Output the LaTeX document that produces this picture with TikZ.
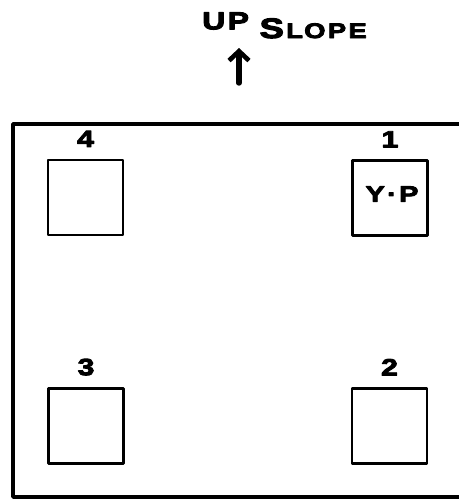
\documentclass[tikz,border=0pt]{standalone}
\usepackage{fontspec}
\setmainfont{Liberation Sans}
\newfontfamily\widefont{Liberation Sans Bold}[FakeBold=4,FakeStretch=1.3]
\usetikzlibrary{arrows.meta}
\tikzset{
	pit/.style={draw,line width=2pt,minimum width=2.25cm,minimum height=2.25cm,inner sep=0pt},
	pitno/.style={font=\widefont\fontsize{20}{20}\selectfont,inner sep=0pt},
}
\begin{document}
\begin{tikzpicture}[x=0.03cm,y=-0.03cm,line cap=round,line join=round]
	\useasboundingbox (0,0) rectangle (459,501);
	% slope direction
	\node[font=\widefont\fontsize{18}{18}\selectfont,inner sep=0pt,anchor=base west] (slope) at (202,38) {\raisebox{0.26cm}{\fontsize{21}{21}\selectfont U\kern2pt P}\kern9pt{\fontsize{24}{24}\selectfont S}\kern2pt L\kern1pt O\kern2pt P\kern2pt E};
	\coordinate (arrowbot) at (239,83);
	\coordinate (arrowtop) at (239,48);
	\draw[line width=4.6pt,-{Straight Barb[length=8pt,width=17pt,line width=4pt]}] (arrowbot)--(arrowtop);
	% plot frame, open on the right
	\draw[line width=3pt] (462,124)--(13,124)--(13,497)--(462,497);
	% the four pits
	\node[pit] (p4) at (85.5,197.5) {};
	\node[pit] (p1) at (390,198) {};
	\node[pit] (p3) at (86,426) {};
	\node[pit] (p2) at (389.5,426) {};
	\node[pitno,above=10pt] at (p4.north) {4};
	\node[pitno,above=10pt] at (p1.north) {1};
	\node[pitno,above=10pt] at (p3.north) {3};
	\node[pitno,above=10pt] at (p2.north) {2};
	\node[pitno,font=\widefont\fontsize{19}{19}\selectfont] (yp) at (392,194) {Y\kern2pt\textperiodcentered\kern2pt P};
\end{tikzpicture}
\end{document}
